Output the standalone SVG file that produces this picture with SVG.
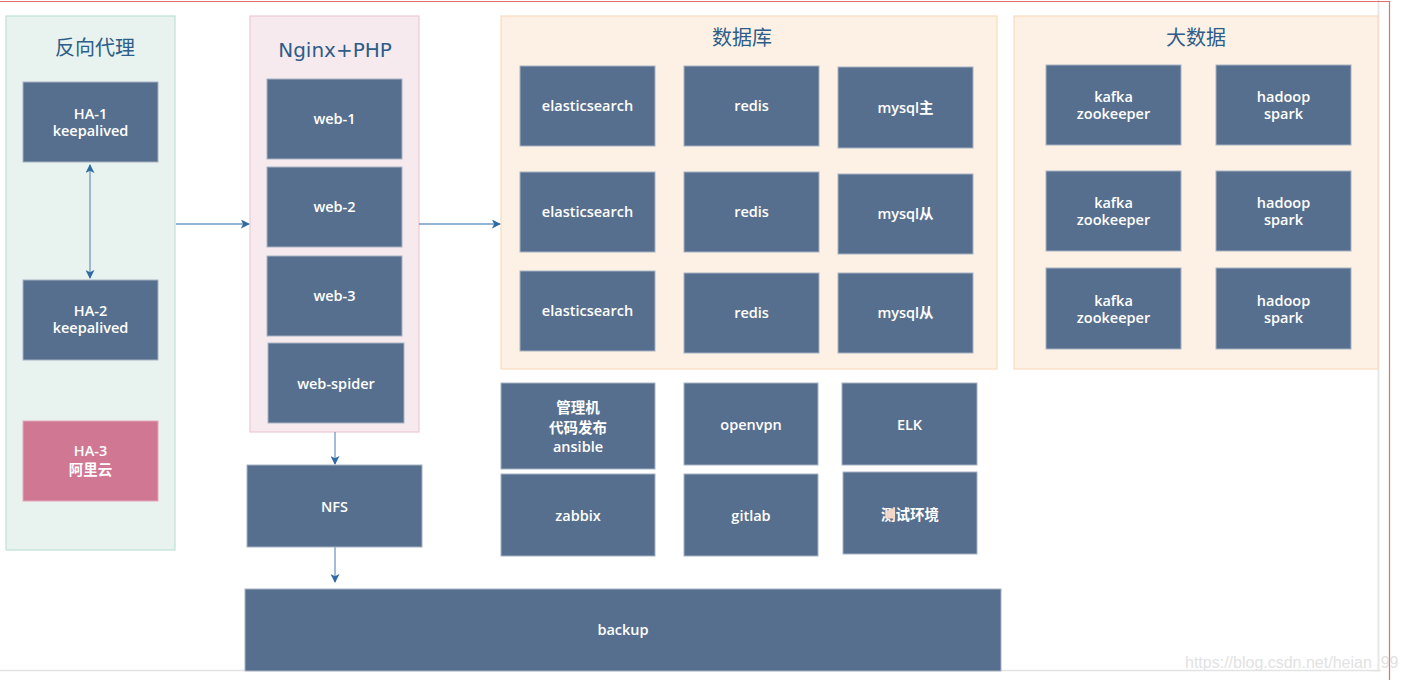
<svg xmlns="http://www.w3.org/2000/svg" width="1405" height="680" viewBox="0 0 1405 680">
<style>
.box{fill:#576f8e;stroke:#a7b3c4;stroke-width:1}
.pink{fill:#d07793;stroke:#e3a9bb;stroke-width:1}
.t{font-family:"Open Sans","Noto Sans CJK SC",sans-serif;font-weight:600;font-size:14.5px;fill:#ffffff;text-anchor:middle}
.title{font-family:"DejaVu Sans","Noto Sans CJK SC",sans-serif;font-size:20px;fill:#2d5d88;text-anchor:middle}
.conn{stroke:#6f9ac6;stroke-width:1.3;fill:none}
</style>
<defs>
<marker id="ah" viewBox="0 0 10 10" refX="9" refY="5" markerWidth="9" markerHeight="9" markerUnits="userSpaceOnUse" orient="auto-start-reverse">
<path d="M0,0 L10,5 L0,10 L2.5,5 z" fill="#2f6aa3"/>
</marker>
</defs>
<rect x="0" y="0" width="1405" height="680" fill="#ffffff"/>
<line x1="1378.5" y1="0" x2="1378.5" y2="670" stroke="#e8e8e8" stroke-width="2"/>
<line x1="0" y1="670.5" x2="1378" y2="670.5" stroke="#e3e3e3" stroke-width="1.5"/>
<line x1="0" y1="1.5" x2="1389" y2="1.5" stroke="#e07070" stroke-width="1.2"/>
<line x1="1389.5" y1="1" x2="1389.5" y2="680" stroke="#e07070" stroke-width="1.2"/>

<g id="proxy-group">
<rect x="6" y="16" width="169" height="534" fill="#e8f2ee" stroke="#bfe1d5" stroke-width="1.2"/>
<text class="title" x="95" y="55">反向代理</text>
</g>
<g id="nginx-group">
<rect x="250" y="16" width="169" height="416" fill="#f6eaee" stroke="#f0c9d4" stroke-width="1.2"/>
<text class="title" x="335" y="57">Nginx+PHP</text>
</g>
<g id="db-group">
<rect x="501" y="16" width="496" height="353" fill="#fdf1e6" stroke="#f8dcbd" stroke-width="1.2"/>
<text class="title" x="742" y="45">数据库</text>
</g>
<g id="bigdata-group">
<rect x="1014" y="16" width="364" height="353" fill="#fdf1e6" stroke="#f8dcbd" stroke-width="1.2"/>
<text class="title" x="1196" y="45">大数据</text>
</g>

<g id="connectors">
<line class="conn" x1="90" y1="165" x2="90" y2="278" marker-start="url(#ah)" marker-end="url(#ah)"/>
<line class="conn" x1="176" y1="224" x2="249" y2="224" marker-end="url(#ah)"/>
<line class="conn" x1="419" y1="224" x2="500" y2="224" marker-end="url(#ah)"/>
<line class="conn" x1="335" y1="432" x2="335" y2="464" marker-end="url(#ah)"/>
<line class="conn" x1="335" y1="547" x2="335" y2="582" marker-end="url(#ah)"/>
</g>

<g id="ha1"><rect class="box" x="23" y="82" width="135" height="80"/><text class="t" x="90.5" y="119">HA-1</text><text class="t" x="90.5" y="136">keepalived</text></g>
<g id="ha2"><rect class="box" x="23" y="280" width="135" height="80"/><text class="t" x="90.5" y="316">HA-2</text><text class="t" x="90.5" y="333">keepalived</text></g>
<g id="ha3"><rect class="pink" x="23" y="421" width="135" height="80"/><text class="t" x="90.5" y="456">HA-3</text><text class="t" x="90.5" y="475">阿里云</text></g>

<g id="web1"><rect class="box" x="267" y="79" width="135" height="80"/><text class="t" x="334.5" y="124">web-1</text></g>
<g id="web2"><rect class="box" x="267" y="167" width="135" height="80"/><text class="t" x="334.5" y="212">web-2</text></g>
<g id="web3"><rect class="box" x="267" y="256" width="135" height="80"/><text class="t" x="334.5" y="301">web-3</text></g>
<g id="webspider"><rect class="box" x="268" y="343" width="136" height="80"/><text class="t" x="336" y="389">web-spider</text></g>

<g id="es1"><rect class="box" x="520" y="66" width="135" height="80"/><text class="t" x="587.5" y="111">elasticsearch</text></g>
<g id="es2"><rect class="box" x="520" y="172" width="135" height="80"/><text class="t" x="587.5" y="217">elasticsearch</text></g>
<g id="es3"><rect class="box" x="520" y="271" width="135" height="80"/><text class="t" x="587.5" y="316">elasticsearch</text></g>
<g id="redis1"><rect class="box" x="684" y="66" width="135" height="80"/><text class="t" x="751.5" y="111">redis</text></g>
<g id="redis2"><rect class="box" x="684" y="172" width="135" height="80"/><text class="t" x="751.5" y="217">redis</text></g>
<g id="redis3"><rect class="box" x="684" y="273" width="135" height="80"/><text class="t" x="751.5" y="318">redis</text></g>
<g id="mysql1"><rect class="box" x="838" y="67" width="135" height="81"/><text class="t" x="905.5" y="113">mysql主</text></g>
<g id="mysql2"><rect class="box" x="838" y="174" width="135" height="80"/><text class="t" x="905.5" y="219">mysql从</text></g>
<g id="mysql3"><rect class="box" x="838" y="273" width="135" height="80"/><text class="t" x="905.5" y="318">mysql从</text></g>

<g id="kafka1"><rect class="box" x="1046" y="65" width="135" height="80"/><text class="t" x="1113.5" y="102">kafka</text><text class="t" x="1113.5" y="119">zookeeper</text></g>
<g id="kafka2"><rect class="box" x="1046" y="171" width="135" height="80"/><text class="t" x="1113.5" y="208">kafka</text><text class="t" x="1113.5" y="225">zookeeper</text></g>
<g id="kafka3"><rect class="box" x="1046" y="268" width="135" height="81"/><text class="t" x="1113.5" y="306">kafka</text><text class="t" x="1113.5" y="323">zookeeper</text></g>
<g id="hadoop1"><rect class="box" x="1216" y="65" width="135" height="80"/><text class="t" x="1283.5" y="102">hadoop</text><text class="t" x="1283.5" y="119">spark</text></g>
<g id="hadoop2"><rect class="box" x="1216" y="171" width="135" height="80"/><text class="t" x="1283.5" y="208">hadoop</text><text class="t" x="1283.5" y="225">spark</text></g>
<g id="hadoop3"><rect class="box" x="1216" y="268" width="135" height="81"/><text class="t" x="1283.5" y="306">hadoop</text><text class="t" x="1283.5" y="323">spark</text></g>

<g id="mgmt"><rect class="box" x="501" y="383" width="154" height="86"/><text class="t" x="578" y="413">管理机</text><text class="t" x="578" y="433">代码发布</text><text class="t" x="578" y="452">ansible</text></g>
<g id="openvpn"><rect class="box" x="684" y="383" width="134" height="82"/><text class="t" x="751" y="430">openvpn</text></g>
<g id="elk"><rect class="box" x="842" y="383" width="135" height="82"/><text class="t" x="909.5" y="430">ELK</text></g>
<g id="zabbix"><rect class="box" x="501" y="474" width="154" height="82"/><text class="t" x="578" y="521">zabbix</text></g>
<g id="gitlab"><rect class="box" x="684" y="474" width="134" height="82"/><text class="t" x="751" y="521">gitlab</text></g>
<g id="testenv"><rect class="box" x="843" y="472" width="134" height="82"/><text class="t" x="910" y="520">测试环境</text></g>

<g id="nfs"><rect class="box" x="247" y="465" width="175" height="82"/><text class="t" x="334.5" y="512">NFS</text></g>
<g id="backup"><rect class="box" x="245" y="589" width="756" height="82"/><text class="t" x="623" y="635">backup</text></g>

<text x="1185" y="668" font-family="Liberation Sans, Arial, sans-serif" font-size="16" fill="#e2e2e2">https://blog.csdn.net/heian_99</text>
</svg>
